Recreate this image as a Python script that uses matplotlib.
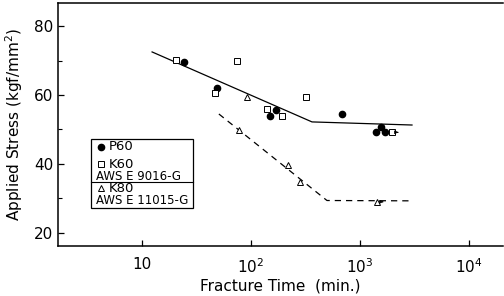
import matplotlib
matplotlib.use("Agg")
import matplotlib.pyplot as plt
from matplotlib.ticker import FixedLocator, NullFormatter
from matplotlib.patches import Rectangle

# Data (fracture time in min, applied stress in kgf/mm^2)
p60_t = [24.3, 48.7, 150, 169, 688, 1393, 1560, 1694]
p60_s = [69.7, 61.9, 53.9, 55.7, 54.5, 49.2, 50.7, 49.2]

k60_t = [20.6, 47.1, 74.8, 139, 191, 320, 1955]
k60_s = [70.1, 60.7, 69.9, 55.9, 54.0, 59.4, 49.2]

k80_t = [91.3, 78.1, 217, 282, 1422]
k80_s = [59.5, 49.9, 39.7, 34.7, 29.0]

# runout (unbroken) points: (time, stress)
runout_t = [1955, 1422]
runout_s = [49.2, 29.0]

line1_t = [12.4, 363, 3000]
line1_s = [72.5, 52.2, 51.3]
line2_t = [50.8, 498, 3060]
line2_s = [54.5, 29.4, 29.3]

xticks = [10, 100, 1000, 10000]
xticklabels = ["10", r"$10^2$", r"$10^3$", r"$10^4$"]
yticks = [20, 40, 60, 80]

fig = plt.figure(figsize=(5.04, 2.96), dpi=100)
ax = fig.add_axes([58/504, 1-246/296, (503-58)/504, (246-3)/296])

ax.plot(line1_t, line1_s, color="black", lw=0.9)
ax.plot(line2_t, line2_s, color="black", lw=0.9, ls=(0, (5, 4)))

ax.plot(p60_t, p60_s, "o", color="black", ms=4.5)
ax.plot(k60_t, k60_s, "s", mfc="white", mec="black", mew=0.7, ms=4)
ax.plot(k80_t, k80_s, "^", mfc="white", mec="black", mew=0.7, ms=4.5)

for t, s in zip(runout_t, runout_s):
    ax.annotate("", xy=(t * 1.22, s), xytext=(t * 1.07, s),
                arrowprops=dict(arrowstyle="-|>", color="black", lw=0.6,
                                mutation_scale=5))

ax.set_xscale("log")
ax.set_xlim(1.7, 20500)
ax.set_ylim(16.2, 86.7)
ax.xaxis.set_major_locator(FixedLocator(xticks))
ax.set_xticklabels(xticklabels)
ax.xaxis.set_minor_formatter(NullFormatter())
ax.xaxis.set_minor_locator(FixedLocator([]))
ax.yaxis.set_major_locator(FixedLocator(yticks))
ax.yaxis.set_minor_locator(FixedLocator([30, 50, 70]))
ax.tick_params(direction="in", labelsize=11, length=4, width=0.9)
ax.tick_params(which="minor", direction="in", length=3, width=0.8)
ax.tick_params(axis="x", pad=8)

for sp in ax.spines.values():
    sp.set_linewidth(1.1)
ax.spines["right"].set_visible(False)

ax.set_xlabel("Fracture Time  (min.)", fontsize=11, labelpad=2)
ax.set_ylabel(r"Applied Stress (kgf/mm$^2$)", fontsize=11, labelpad=6)

# Legend box
tr = fig.transFigure
def fx(px):
    return px / 504
def fy(py):
    return 1 - py / 296
fig.patches.append(Rectangle((fx(91), fy(208)), fx(193) - fx(91), fy(139) - fy(208),
                             transform=tr, fill=False, ec="black", lw=0.9))
fig.lines.append(plt.Line2D([fx(91), fx(193)], [fy(181.5), fy(181.5)],
                            transform=tr, color="black", lw=0.8))
fig.lines.append(plt.Line2D([fx(101)], [fy(147)], transform=tr, marker="o",
                            color="black", ms=4.5))
fig.lines.append(plt.Line2D([fx(101)], [fy(164)], transform=tr, marker="s",
                            mfc="white", mec="black", mew=0.7, ms=4))
fig.lines.append(plt.Line2D([fx(101)], [fy(188)], transform=tr, marker="^",
                            mfc="white", mec="black", mew=0.7, ms=4))
fig.text(fx(109), fy(147), "P60", fontsize=9.5, va="center", ha="left")
fig.text(fx(109), fy(164), "K60", fontsize=9.5, va="center", ha="left")
fig.text(fx(96), fy(176), "AWS E 9016-G", fontsize=8.5, va="center", ha="left")
fig.text(fx(109), fy(188), "K80", fontsize=9.5, va="center", ha="left")
fig.text(fx(96), fy(200), "AWS E 11015-G", fontsize=8.5, va="center", ha="left")

fig.savefig("out.png", dpi=100)
